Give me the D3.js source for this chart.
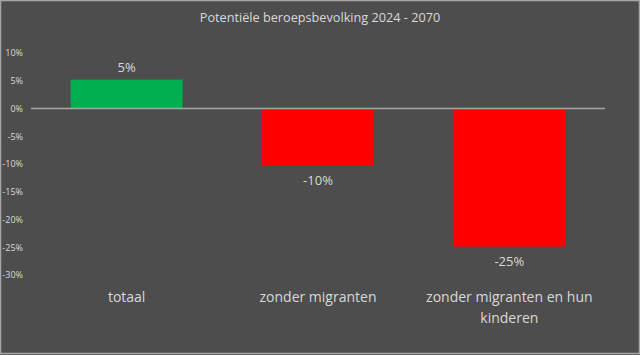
<!DOCTYPE html>
<html><head><meta charset="utf-8">
<script src="https://cdn.jsdelivr.net/npm/d3@7"></script>
<style>html,body{margin:0;padding:0;background:#4d4d4d;}svg{display:block;}</style>
</head><body>
<svg id="c" width="640" height="355"></svg>
<script>
const title = "Potentiële beroepsbevolking 2024 - 2070";
const categories = ["totaal", "zonder migranten", "zonder migranten en hun kinderen"];
const values = [5.2, -10.3, -24.9];
const valueLabels = ["5%", "-10%", "-25%"];
const barColors = ["#00b050", "#ff0000", "#ff0000"];
const yTicks = [10, 5, 0, -5, -10, -15, -20, -25, -30];

const svg = d3.select("#c");
const W = 640, H = 355;
const font = "'Open Sans', 'Noto Sans', sans-serif";
const textColor = "#d9d9d9";

svg.append("rect").attr("x", 0.5).attr("y", 0.5).attr("width", W - 1).attr("height", H - 2)
  .attr("fill", "#4d4d4d").attr("stroke", "#a6a6a6").attr("stroke-width", 1.5);

svg.append("text").attr("x", 320).attr("y", 22).attr("text-anchor", "middle")
  .attr("font-family", font).attr("font-size", 12.7).attr("fill", textColor).text(title);

const x = d3.scaleBand().domain(categories).range([31, 605]).paddingInner(0.415).paddingOuter(0.2075);
const y = d3.scaleLinear().domain([-30, 10]).range([275, 53]);

// y axis labels
const yAxis = d3.axisLeft(y).tickValues(yTicks).tickFormat(d => d + "%").tickSize(0).tickPadding(0);
const gy = svg.append("g").attr("transform", "translate(23,0)").call(yAxis);
gy.select(".domain").remove();
gy.selectAll("text").attr("font-family", font).attr("font-size", 9).attr("fill", textColor);

// bars
svg.selectAll("rect.bar").data(values).join("rect").attr("class", "bar")
  .attr("x", (d, i) => x(categories[i]))
  .attr("width", x.bandwidth())
  .attr("y", d => y(Math.max(0, d)))
  .attr("height", d => Math.abs(y(d) - y(0)))
  .attr("fill", (d, i) => barColors[i]);

// zero line
svg.append("line").attr("x1", 31).attr("x2", 605).attr("y1", y(0)).attr("y2", y(0))
  .attr("stroke", "#a6a6a6").attr("stroke-width", 1.5);

// value labels
svg.selectAll("text.val").data(values).join("text").attr("class", "val")
  .attr("x", (d, i) => x(categories[i]) + x.bandwidth() / 2)
  .attr("y", d => d >= 0 ? y(d) - 8 : y(d) + 19)
  .attr("text-anchor", "middle").attr("font-family", font).attr("font-size", 13)
  .attr("fill", textColor).text((d, i) => valueLabels[i]);

// category labels (wrapped)
const lines = [["totaal"], ["zonder migranten"], ["zonder migranten en hun", "kinderen"]];
categories.forEach((c, i) => {
  const t = svg.append("text").attr("text-anchor", "middle").attr("font-family", font)
    .attr("font-size", 14).attr("fill", textColor);
  lines[i].forEach((l, j) => {
    t.append("tspan").attr("x", x(c) + x.bandwidth() / 2).attr("y", 302 + j * 21).text(l);
  });
});
</script>
</body></html>
